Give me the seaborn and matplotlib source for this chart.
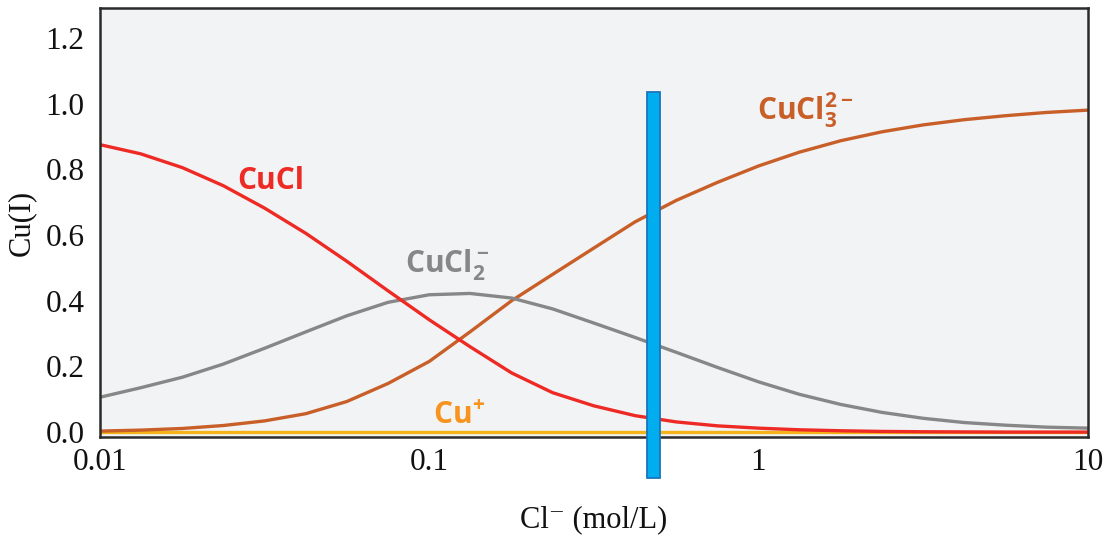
import numpy as np
import pandas as pd
import matplotlib
matplotlib.use("Agg")
import matplotlib.pyplot as plt
import seaborn as sns

# chloride concentration (mol/L), read at 1/8-decade steps
cl = [0.01, 0.0133, 0.0178, 0.0237, 0.0316, 0.0422, 0.0562, 0.075,
      0.1, 0.133, 0.178, 0.237, 0.316, 0.422, 0.562, 0.75,
      1, 1.33, 1.78, 2.37, 3.16, 4.22, 5.62, 7.5, 10]

cucl = [0.875, 0.847, 0.805, 0.75, 0.682, 0.605, 0.52, 0.43,
        0.342, 0.26, 0.18, 0.12, 0.08, 0.05, 0.031, 0.019,
        0.012, 0.007, 0.004, 0.002, 0.001, 0.0005, 0.0, 0.0, 0.0]

cucl2 = [0.106, 0.135, 0.167, 0.207, 0.255, 0.305, 0.354, 0.395,
         0.418, 0.422, 0.408, 0.375, 0.332, 0.288, 0.243, 0.197,
         0.153, 0.115, 0.084, 0.06, 0.042, 0.029, 0.021, 0.015, 0.012]

cucl3 = [0.003, 0.006, 0.011, 0.02, 0.034, 0.056, 0.093, 0.148,
         0.215, 0.305, 0.40, 0.48, 0.56, 0.64, 0.705, 0.76,
         0.81, 0.852, 0.887, 0.914, 0.935, 0.951, 0.963, 0.973, 0.98]

cu_plus = [0.0] * len(cl)

x_ticks = [0.01, 0.1, 1, 10]
x_tick_labels = ["0.01", "0.1", "1", "10"]
y_ticks = [0.0, 0.2, 0.4, 0.6, 0.8, 1.0, 1.2]

# marker bar (working chloride level)
bar_x = 0.48
bar_bottom = -0.14
bar_top = 1.035

sns.set_theme(style="white")
plt.rcParams["font.family"] = ["Liberation Serif", "DejaVu Serif"]
plt.rcParams["mathtext.fontset"] = "custom"
plt.rcParams["mathtext.rm"] = "Open Sans"
plt.rcParams["mathtext.bf"] = "Open Sans:bold"

df = pd.DataFrame({"cl": cl, "CuCl": cucl, "CuCl2": cucl2,
                   "CuCl3": cucl3, "Cu+": cu_plus})

fig = plt.figure(figsize=(11.1, 5.42), dpi=100)
ax = fig.add_axes([0.090, 0.1937, 0.890, 0.791])
ax.set_facecolor("#f2f3f5")

sns.lineplot(data=df, x="cl", y="Cu+", color="#f5b31a", lw=2.4, ax=ax)
sns.lineplot(data=df, x="cl", y="CuCl3", color="#c95f28", lw=2.4, ax=ax)
sns.lineplot(data=df, x="cl", y="CuCl2", color="#878787", lw=2.4, ax=ax)
sns.lineplot(data=df, x="cl", y="CuCl", color="#ee2a24", lw=2.4, ax=ax)

ax.set_xscale("log")
ax.set_xlim(0.01, 10)
ax.set_ylim(-0.015, 1.29)

w = bar_x * (10 ** 0.0197 - 10 ** -0.0197)
ax.bar([bar_x], [bar_top - bar_bottom], bottom=bar_bottom, width=w,
       color="#00aeef", edgecolor="#1a75bc", linewidth=1.3, clip_on=False,
       zorder=5)

lab = dict(fontweight="bold", ha="left", va="baseline", fontsize=21.5,
           family="Open Sans")
ax.text(0.0261, 0.74, "CuCl", color="#ee2a24", **lab)
ax.text(0.0847, 0.485, r"$\mathbf{CuCl_2^-}$", color="#878787", **lab)
ax.text(0.99, 0.95, r"$\mathbf{CuCl_3^{2-}}$", color="#c95f28", **lab)
ax.text(0.1027, 0.024, r"$\mathbf{Cu^{\!+}}$", color="#f7941d", **lab)

ax.set_xticks(x_ticks)
ax.set_xticklabels(x_tick_labels)
ax.minorticks_off()
ax.set_yticks(y_ticks)
ax.set_yticklabels([f"{v:.1f}" for v in y_ticks])
ax.tick_params(axis="both", length=0, labelsize=22.5, colors="#111111")
ax.tick_params(axis="x", pad=8)
ax.tick_params(axis="y", pad=11)

ax.set_xlabel("Cl⁻ (mol/L)", fontsize=22, labelpad=20, color="#111111")
ax.set_ylabel("Cu(I)", fontsize=22, labelpad=7, color="#111111")

for s in ax.spines.values():
    s.set_color("#2b2b2b")
    s.set_linewidth(1.8)

fig.savefig("out.png", dpi=100)
